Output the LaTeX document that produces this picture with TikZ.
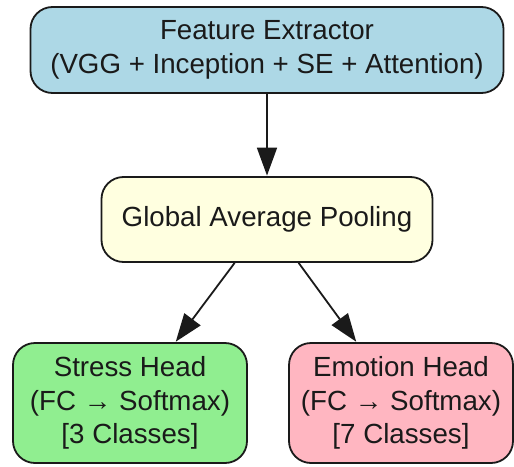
\documentclass[tikz,border=0pt]{standalone}
\usepackage{fontspec}
\setmainfont{Liberation Sans}
\usetikzlibrary{arrows.meta}

\definecolor{boxblue}{HTML}{ADD8E6}
\definecolor{boxyellow}{HTML}{FFFFE0}
\definecolor{boxgreen}{HTML}{90EE90}
\definecolor{boxpink}{HTML}{FFB6C1}
\definecolor{inkline}{HTML}{1A1A1A}

\tikzset{
  block/.style={draw=inkline, line width=1.8pt, rounded corners=22pt,
    align=center, inner sep=0pt, text=inkline,
    font=\fontsize{27.7pt}{33.5pt}\selectfont},
  link/.style={draw=inkline, line width=1.8pt,
    -{Triangle[length=28pt, width=20pt]}, shorten >=0.5pt}
}

\begin{document}
\begin{tikzpicture}[x=1pt, y=-1pt]
  \useasboundingbox (0,0) rectangle (514,466);

  \node[block, fill=boxblue, minimum width=473pt, minimum height=86pt]
    (fe) at (267,50) {Feature Extractor\\(VGG + Inception + SE + Attention)};

  \node[block, fill=boxyellow, minimum width=331pt, minimum height=85pt]
    (gap) at (267,219.5) {Global Average Pooling};

  \node[block, fill=boxgreen, minimum width=234pt, minimum height=120pt]
    (stress) at (130,403) {Stress Head\\(FC \char"2192\ Softmax)\\{}[3 Classes]};

  \node[block, fill=boxpink, minimum width=224pt, minimum height=120pt]
    (emotion) at (401,403) {Emotion Head\\(FC \char"2192\ Softmax)\\{}[7 Classes]};

  \draw[link] (fe) -- (gap);
  \draw[link] (gap) -- (stress);
  \draw[link] (gap) -- (emotion);
\end{tikzpicture}
\end{document}
